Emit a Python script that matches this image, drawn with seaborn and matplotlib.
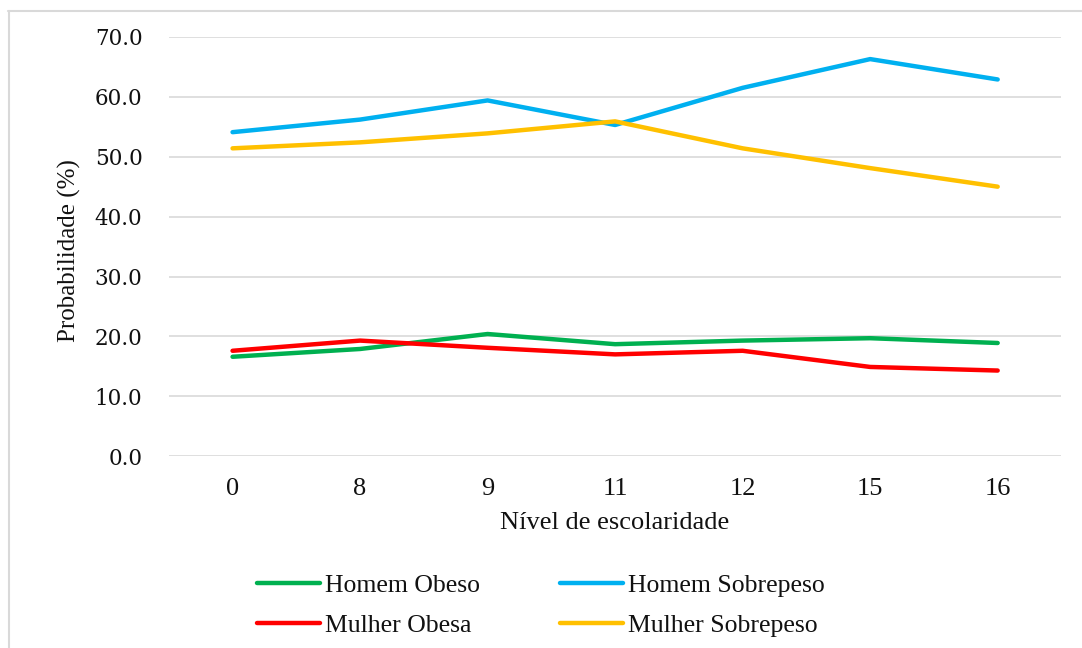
import matplotlib
matplotlib.use("Agg")
import matplotlib.pyplot as plt
from matplotlib.lines import Line2D
import seaborn as sns
import pandas as pd

# Escolaridade (anos de estudo) e probabilidades estimadas (%)
niveis = ["0", "8", "9", "11", "12", "15", "16"]
homem_obeso = [16.6, 17.9, 20.4, 18.7, 19.3, 19.7, 18.9]
homem_sobrepeso = [54.1, 56.2, 59.4, 55.3, 61.5, 66.3, 62.9]
mulher_obesa = [17.6, 19.3, 18.1, 17.0, 17.6, 14.9, 14.3]
mulher_sobrepeso = [51.4, 52.4, 53.9, 55.9, 51.4, 48.1, 45.0]
series = ["Homem Obeso", "Homem Sobrepeso", "Mulher Obesa", "Mulher Sobrepeso"]
cores = {"Homem Obeso": "#00B050", "Homem Sobrepeso": "#00B0F0",
         "Mulher Obesa": "#FF0000", "Mulher Sobrepeso": "#FFC000"}
y_ticks = [0, 10, 20, 30, 40, 50, 60, 70]

valores = [homem_obeso, homem_sobrepeso, mulher_obesa, mulher_sobrepeso]
df = pd.DataFrame(
    [(n, v, s) for s, vals in zip(series, valores) for n, v in zip(niveis, vals)],
    columns=["nivel", "prob", "serie"],
)

sns.set_theme(style="white")
plt.rcParams["font.family"] = ["Liberation Serif", "DejaVu Serif"]

fig = plt.figure(figsize=(10.82, 6.48), dpi=100)
ax = fig.add_axes([0.156, 0.296, 0.825, 0.647])

sns.lineplot(data=df, x="nivel", y="prob", hue="serie", hue_order=series,
             palette=cores, linewidth=3.2, sort=False, ax=ax, legend=False)
for ln in ax.get_lines():
    ln.set_solid_capstyle("round")
    ln.set_solid_joinstyle("round")

ax.set_xlim(-0.5, len(niveis) - 0.5)
ax.set_ylim(0, 70)
ax.set_yticks(y_ticks)
ax.set_yticklabels([f"{t:.1f}" for t in y_ticks], family="DejaVu Serif", fontsize=15.5)
ax.tick_params(axis="y", length=0, pad=19, colors="#111111")
ax.tick_params(axis="x", length=0, pad=15.5, labelsize=19, colors="#111111")
ax.yaxis.grid(True, color="#D9D9D9", linewidth=1.2)
ax.xaxis.grid(False)
for sp in ax.spines.values():
    sp.set_visible(False)
ax.set_axisbelow(True)

ax.set_xlabel("Nível de escolaridade", fontsize=19, color="#111111", labelpad=8.5)
ax.set_ylabel("Probabilidade (%)", fontsize=18, color="#111111")
ax.yaxis.set_label_coords(-0.098, 0.49)

# Legenda em duas colunas abaixo do gráfico
handles = [Line2D([], [], color=cores[s], linewidth=3.2, solid_capstyle="round")
           for s in series]
order = [0, 2, 1, 3]
fig.legend([handles[i] for i in order], [series[i] for i in order],
           ncol=2, frameon=False, loc="upper left",
           bbox_to_anchor=(0.228, 0.130), fontsize=18.5,
           handlelength=2.45, handletextpad=0.2, columnspacing=3.1,
           labelspacing=0.68, borderaxespad=0, labelcolor="#111111")

# Moldura da figura (bordas superior e esquerda)
W, H = 1082, 648
fig.add_artist(Line2D([8 / W, 1.0], [1 - 11 / H, 1 - 11 / H],
                      transform=fig.transFigure, color="#D9D9D9", linewidth=1.5))
fig.add_artist(Line2D([9 / W, 9 / W], [0.0, 1 - 11 / H],
                      transform=fig.transFigure, color="#D9D9D9", linewidth=1.5))

fig.savefig("out.png", dpi=100, facecolor="white")
